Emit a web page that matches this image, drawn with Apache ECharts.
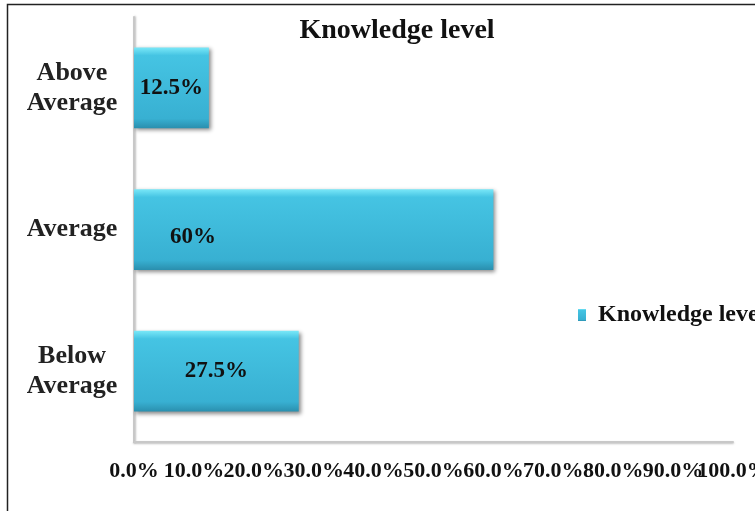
<!DOCTYPE html>
<html>
<head>
<meta charset="utf-8">
<script src="https://cdn.jsdelivr.net/npm/echarts@6/dist/echarts.min.js"></script>
<style>html,body{margin:0;padding:0;background:#fff}#c{width:755px;height:511px}</style>
</head>
<body>
<div id="c"></div>
<script>
var categories = ['Below\nAverage', 'Average', 'Above\nAverage'];
var values = [27.5, 60, 12.5];
var valueLabels = ['27.5%', '60%', '12.5%'];
var seriesName = 'Knowledge level';
var titleText = 'Knowledge level';

var font = '"Liberation Serif", "Times New Roman", serif';
var chart = echarts.init(document.getElementById('c'));
var barColor = new echarts.graphic.LinearGradient(0, 0, 0, 1, [
  {offset: 0, color: '#7ae8f8'},
  {offset: 0.1, color: '#45c4e3'},
  {offset: 0.88, color: '#38b0d2'},
  {offset: 1, color: '#2a8fae'}
]);
var data = values.map(function (v, i) {
  var item = {value: v, label: {formatter: valueLabels[i]}};
  if (i === 1) {
    item.label.position = 'insideLeft';
    item.label.distance = 36;
    item.label.offset = [0, 8];
  }
  return item;
});
var tickFmt = function (v) { return v.toFixed(1) + '%'; };
var labelStyle = {margin: 18, fontFamily: font, fontWeight: 'bold', fontSize: 22, color: '#111', hideOverlap: false};
chart.setOption({
  animation: false,
  title: {
    text: titleText, left: 397, top: 17, textAlign: 'center', padding: 0,
    textStyle: {fontFamily: font, fontWeight: 'bold', fontSize: 28, color: '#111'}
  },
  legend: {
    data: [seriesName], left: 578, top: 303, padding: 0, icon: 'rect', itemWidth: 8, itemHeight: 12, itemGap: 6,
    textStyle: {fontFamily: font, fontWeight: 'bold', fontSize: 24, color: '#111', padding: [0, 0, 0, 7]}
  },
  grid: {left: 134, right: 22, top: 17, bottom: 69, containLabel: false, outerBoundsMode: 'none'},
  xAxis: [{
    type: 'value', min: 0, max: 100, interval: 10,
    axisLine: {show: true, lineStyle: {color: '#c8c8c8', width: 2, shadowColor: 'rgba(0,0,0,0.25)', shadowBlur: 2, shadowOffsetY: 1}},
    axisTick: {show: false}, splitLine: {show: false},
    axisLabel: Object.assign({}, labelStyle, {showMinLabel: true, showMaxLabel: false, formatter: tickFmt})
  }, {
    type: 'value', min: 0, max: 100, interval: 10, position: 'bottom',
    axisLine: {show: false}, axisTick: {show: false}, splitLine: {show: false},
    axisLabel: Object.assign({}, labelStyle, {showMinLabel: false, showMaxLabel: true,
      formatter: function (v) { return v === 100 ? tickFmt(v) : ''; }})
  }],
  yAxis: {
    type: 'category', data: categories,
    axisLine: {show: true, lineStyle: {color: '#c8c8c8', width: 2, shadowColor: 'rgba(0,0,0,0.25)', shadowBlur: 2, shadowOffsetX: 1}},
    axisTick: {show: false},
    axisLabel: {
      margin: 62, fontFamily: font, fontWeight: 'bold', fontSize: 26, lineHeight: 30, color: '#222', align: 'center'
    }
  },
  graphic: [{
    type: 'rect', shape: {x: 7.5, y: 4.5, width: 800, height: 600},
    style: {fill: 'none', stroke: '#222', lineWidth: 1.5}, silent: true
  }],
  series: [{
    type: 'bar', name: seriesName, data: data, barCategoryGap: '43%',
    itemStyle: {color: barColor, shadowColor: 'rgba(0,0,0,0.45)', shadowBlur: 4, shadowOffsetX: 2, shadowOffsetY: 2},
    label: {
      show: true, position: 'inside', fontFamily: font, fontWeight: 'bold', fontSize: 23, color: '#111'
    }
  }]
});
</script>
</body>
</html>
